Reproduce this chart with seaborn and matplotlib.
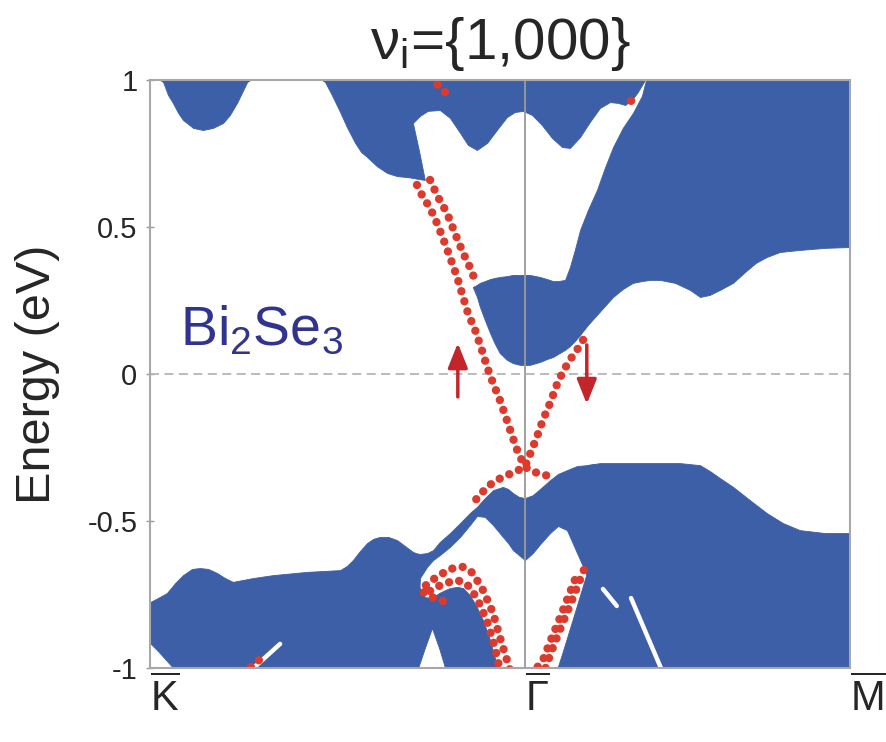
#!/usr/bin/env python
"""Bi2Se3 surface band structure along K-Gamma-M (bulk projection + surface states)."""
import matplotlib

matplotlib.use("Agg")
import matplotlib.pyplot as plt
import numpy as np
import pandas as pd
import seaborn as sns

BLUE = "#3d5fa8"
RED = "#dc3a2c"
ARROW_RED = "#c4252b"
TEXT_BLUE = "#30348f"

# ---- k-path (K = -1, Gamma = 0, M = 0.867) ----
k_ticks = [-1.0, 0.0, 0.867]
k_labels = ["K", "Γ", "M"]
e_ticks = [-1, -0.5, 0, 0.5, 1]
e_labels = ["-1", "-0.5", "0", "0.5", "1"]

# ---- projected bulk bands: (k, lower E, upper E) in eV ----
cb_topleft_k = [-0.973, -0.965, -0.952, -0.939, -0.925, -0.912, -0.885, -0.859, -0.832, -0.805,
                -0.787, -0.768, -0.755, -0.741, -0.733]
cb_topleft_lo = [1.0, 0.993, 0.949, 0.922, 0.888, 0.864, 0.837, 0.830, 0.837, 0.854,
                 0.881, 0.922, 0.956, 0.993, 1.0]

cb_left_k = [-0.541, -0.533, -0.515, -0.493, -0.475, -0.453, -0.437, -0.421, -0.395, -0.368,
             -0.341, -0.315, -0.299, -0.299, -0.283, -0.267]
cb_left_lo = [1.0, 0.993, 0.949, 0.891, 0.840, 0.786, 0.755, 0.738, 0.707, 0.684,
              0.673, 0.670, 0.667, 0.667, 0.663, 0.660]
cb_left_hi = [1.05, 1.05, 1.05, 1.05, 1.05, 1.05, 1.05, 1.05, 1.05, 1.05,
              1.05, 1.05, 1.05, 0.854, 0.762, 0.660]

cb_w_k = [-0.299, -0.280, -0.259, -0.227, -0.200, -0.173, -0.152, -0.128, -0.101, -0.075,
          -0.048, -0.027, -0.005, 0.019, 0.045, 0.072, 0.099, 0.120, 0.147, 0.173,
          0.200, 0.227, 0.248, 0.267, 0.285, 0.301, 0.320]
cb_w_lo = [0.854, 0.878, 0.895, 0.898, 0.871, 0.820, 0.779, 0.762, 0.786, 0.830,
           0.874, 0.891, 0.895, 0.881, 0.847, 0.803, 0.772, 0.769, 0.806, 0.857,
           0.905, 0.925, 0.922, 0.915, 0.932, 0.959, 1.0]

cb_main_k = [-0.139, -0.128, -0.120, -0.107, -0.093, -0.080, -0.067, -0.048, -0.032, -0.013,
             0.0, 0.013, 0.040, 0.059, 0.075, 0.088, 0.107, 0.120, 0.133, 0.147,
             0.168, 0.192, 0.213, 0.235, 0.261, 0.288, 0.312, 0.333, 0.360, 0.400,
             0.440, 0.467, 0.493, 0.520, 0.555, 0.587, 0.616, 0.645, 0.680, 0.733,
             0.800, 0.867]
cb_main_lo = [0.296, 0.262, 0.228, 0.184, 0.139, 0.102, 0.071, 0.048, 0.037, 0.031,
              0.031, 0.031, 0.041, 0.051, 0.058, 0.068, 0.082, 0.095, 0.112, 0.133,
              0.167, 0.201, 0.231, 0.262, 0.289, 0.310, 0.316, 0.320, 0.320, 0.310,
              0.286, 0.262, 0.269, 0.286, 0.310, 0.347, 0.378, 0.398, 0.415, 0.422,
              0.429, 0.432]
cb_main_hi = [0.296, 0.303, 0.310, 0.316, 0.323, 0.327, 0.330, 0.333, 0.337, 0.337,
              0.337, 0.337, 0.330, 0.323, 0.316, 0.316, 0.320, 0.364, 0.422, 0.490,
              0.558, 0.626, 0.701, 0.772, 0.837, 0.888, 0.946, 1.05, 1.05, 1.05,
              1.05, 1.05, 1.05, 1.05, 1.05, 1.05, 1.05, 1.05, 1.05, 1.05,
              1.05, 1.05]

vb_left_k = [-1.0, -0.979, -0.955, -0.933, -0.912, -0.888, -0.867, -0.845, -0.821, -0.800,
             -0.779, -0.725, -0.672, -0.581, -0.493, -0.475, -0.459, -0.440, -0.421, -0.405,
             -0.387, -0.365, -0.341, -0.320, -0.299, -0.291]
vb_left_lo = [-0.915, -0.942, -0.976, -1.007, -1.05, -1.05, -1.05, -1.05, -1.05, -1.05,
              -1.05, -1.05, -1.05, -1.05, -1.05, -1.05, -1.05, -1.05, -1.05, -1.05,
              -1.05, -1.05, -1.05, -1.05, -1.05, -1.05]
vb_left_hi = [-0.776, -0.762, -0.745, -0.711, -0.684, -0.663, -0.660, -0.663, -0.677, -0.694,
              -0.707, -0.694, -0.684, -0.673, -0.667, -0.653, -0.633, -0.602, -0.575, -0.561,
              -0.554, -0.554, -0.565, -0.585, -0.605, -0.609]

vb_mid_k = [-0.293, -0.280, -0.261, -0.245, -0.227, -0.200, -0.173, -0.147, -0.128, -0.107,
            -0.085, -0.059, -0.045, -0.032, -0.016, 0.0, 0.021, 0.043, 0.067, 0.088,
            0.112, 0.139, 0.165, 0.187]
vb_mid_lo = [-1.05, -0.694, -0.656, -0.633, -0.616, -0.588, -0.554, -0.514, -0.483, -0.486,
             -0.514, -0.554, -0.575, -0.599, -0.616, -0.633, -0.609, -0.575, -0.541, -0.517,
             -0.531, -0.609, -0.684, -1.05]
vb_mid_hi = [-0.609, -0.612, -0.609, -0.599, -0.571, -0.541, -0.507, -0.473, -0.452, -0.422,
             -0.395, -0.384, -0.391, -0.405, -0.418, -0.422, -0.412, -0.388, -0.361, -0.340,
             -0.327, -0.313, -0.310, -0.306]

vb_right_k = [0.165, 0.200, 0.253, 0.333, 0.413, 0.467, 0.493, 0.520, 0.555, 0.600,
              0.645, 0.688, 0.733, 0.800, 0.867]
vb_right_hi = [-0.310, -0.303, -0.303, -0.303, -0.303, -0.310, -0.330, -0.354, -0.384, -0.429,
               -0.473, -0.507, -0.531, -0.541, -0.541]

vb_edge_k = [0.085, 0.099, 0.112, 0.125, 0.139, 0.152, 0.165, 0.179]
vb_edge_hi = [-1.007, -0.952, -0.898, -0.844, -0.786, -0.731, -0.677, -0.633]

vb_peak_k = [-0.307, -0.285, -0.267, -0.248, -0.229, -0.213, -0.200, -0.181, -0.165, -0.147,
             -0.128, -0.112, -0.093, -0.075, -0.067]
vb_peak_lo = [-1.05, -1.0, -0.932, -0.864, -0.932, -1.0, -1.05, -1.05, -1.05, -1.05,
              -1.05, -1.05, -1.05, -1.05, -1.05]
vb_peak_hi = [-0.684, -0.718, -0.759, -0.762, -0.745, -0.735, -0.728, -0.724, -0.728, -0.752,
              -0.793, -0.837, -0.905, -0.990, -1.05]

# thin gaps cutting through the projected bulk bands
gaps = {
    "K": ([-0.736, -0.653], [-1.014, -0.918]),
    "M1": ([0.208, 0.245], [-0.731, -0.789]),
    "M2": ([0.283, 0.365], [-0.762, -1.007]),
}

# ---- surface states ----
ss_left_k = [-0.288, -0.272, -0.253, -0.235, -0.219, -0.200, -0.181, -0.165, -0.152, -0.133,
             -0.115, -0.101, -0.085, -0.067, -0.053, -0.035, -0.019, 0.0, 0.019, 0.040, 0.075]
ss_left_e = [0.643, 0.602, 0.565, 0.514, 0.463, 0.398, 0.330, 0.262, 0.207, 0.150,
             0.082, 0.024, -0.031, -0.088, -0.139, -0.207, -0.265, -0.316, -0.330, -0.340, -0.350]
ss_left2_k = [-0.253, -0.232, -0.208, -0.187, -0.165, -0.147, -0.131]
ss_left2_e = [0.660, 0.602, 0.548, 0.480, 0.412, 0.364, 0.313]
ss_right_k = [0.155, 0.139, 0.120, 0.101, 0.085, 0.067, 0.048, 0.032, 0.016, 0.0,
              -0.027, -0.053, -0.075, -0.101, -0.120, -0.139]
ss_right_e = [0.116, 0.082, 0.048, 0.007, -0.037, -0.099, -0.156, -0.214, -0.265, -0.316,
              -0.333, -0.347, -0.361, -0.384, -0.412, -0.439]
ss_top_k = [-0.253, -0.245, -0.227, -0.208]
ss_top_e = [1.01, 1.0, 0.976, 0.952]
ss_top2_k = [0.283, 0.299]
ss_top2_e = [0.929, 0.939]
ss_arc_k = [-0.219, -0.248, -0.277, -0.261, -0.235, -0.200, -0.165, -0.139, -0.112, -0.085,
            -0.067, -0.048, -0.040]
ss_arc_e = [-0.772, -0.759, -0.738, -0.714, -0.690, -0.663, -0.656, -0.677, -0.735, -0.813,
            -0.895, -0.973, -1.007]
ss_arc2_k = [-0.253, -0.219, -0.181, -0.155, -0.128, -0.101, -0.080, -0.067]
ss_arc2_e = [-0.738, -0.714, -0.701, -0.714, -0.762, -0.840, -0.929, -1.007]
ss_low_k = [0.157, 0.136, 0.115, 0.093, 0.072, 0.053]
ss_low_e = [-0.667, -0.735, -0.803, -0.871, -0.939, -1.007]
ss_low2_k = [0.133, 0.112, 0.091, 0.069, 0.048, 0.027]
ss_low2_e = [-0.701, -0.769, -0.837, -0.905, -0.973, -1.007]
ss_k_k = [-0.731, -0.712, -0.693]
ss_k_e = [-0.997, -0.976, -0.956]

# spin arrows: (k, E tail, E head)
spin_up = (-0.179, -0.078, 0.105)
spin_down = (0.165, 0.099, -0.102)


def main() -> None:
    sns.set_theme(style="white")
    plt.rcParams["font.family"] = ["Liberation Sans", "DejaVu Sans"]
    plt.rcParams["mathtext.fontset"] = "custom"
    plt.rcParams["mathtext.rm"] = "Liberation Sans"
    plt.rcParams["axes.unicode_minus"] = False

    fig = plt.figure(figsize=(8.86, 7.42), dpi=100)
    ax = fig.add_axes([150 / 886, 1 - 668 / 742, 700 / 886, 588 / 742])

    bands = [
        (cb_topleft_k, cb_topleft_lo, [1.05] * len(cb_topleft_k)),
        (cb_left_k, cb_left_lo, cb_left_hi),
        (cb_w_k, cb_w_lo, [1.05] * len(cb_w_k)),
        (cb_main_k, cb_main_lo, cb_main_hi),
        (vb_left_k, vb_left_lo, vb_left_hi),
        (vb_mid_k, vb_mid_lo, vb_mid_hi),
        (vb_right_k, [-1.05] * len(vb_right_k), vb_right_hi),
        (vb_edge_k, [-1.05] * len(vb_edge_k), vb_edge_hi),
        (vb_peak_k, vb_peak_lo, vb_peak_hi),
    ]
    for k, lo, hi in bands:
        ax.fill_between(k, lo, hi, color=BLUE, lw=0.6, edgecolor=BLUE, zorder=1)
    for gk, ge in gaps.values():
        ax.plot(gk, ge, color="white", lw=3.2, solid_capstyle="round", zorder=2)

    ax.axvline(0, color="#9a9a9a", lw=1.3, zorder=3)
    ax.axhline(0, color="#b5b5b5", lw=1.3, ls=(0, (5, 3)), zorder=3)

    curves = {
        "left": (ss_left_k, ss_left_e), "left2": (ss_left2_k, ss_left2_e),
        "right": (ss_right_k, ss_right_e), "top": (ss_top_k, ss_top_e),
        "top2": (ss_top2_k, ss_top2_e), "arc": (ss_arc_k, ss_arc_e),
        "arc2": (ss_arc2_k, ss_arc2_e), "low": (ss_low_k, ss_low_e),
        "low2": (ss_low2_k, ss_low2_e), "kslit": (ss_k_k, ss_k_e),
    }
    ss = pd.concat(
        [pd.DataFrame({"k": k, "E": e, "curve": name}) for name, (k, e) in curves.items()],
        ignore_index=True,
    )
    sns.lineplot(data=ss, x="k", y="E", units="curve", estimator=None, sort=False,
                 color=RED, lw=6.0, linestyle=(0, (0.01, 1.25)), dash_capstyle="round",
                 ax=ax, zorder=4, legend=False)

    for k0, e_tail, e_head in (spin_up, spin_down):
        ax.annotate("", xy=(k0, e_head), xytext=(k0, e_tail),
                    arrowprops=dict(arrowstyle="-|>,head_length=0.75,head_width=0.3",
                                    color=ARROW_RED, lw=2.5, mutation_scale=20,
                                    shrinkA=0, shrinkB=0), zorder=5)

    ax.set_xlim(-1.0, 0.867)
    ax.set_ylim(-1, 1)
    ax.set_yticks(e_ticks)
    ax.set_yticklabels(e_labels, fontsize=21)
    ax.set_xticks(k_ticks)
    ax.set_xticklabels([r"$\overline{\mathregular{%s}}$" % s for s in k_labels],
                       fontsize=30, ha="left")
    ax.tick_params(axis="y", direction="inout", length=6, width=1, color="#999999",
                   pad=6, left=True)
    ax.tick_params(axis="x", length=0, pad=5.5)
    ax.set_xlabel("")
    ax.set_ylabel("Energy (eV)", fontsize=35)
    ax.yaxis.set_label_coords(-0.128, 0.5)
    for sp in ax.spines.values():
        sp.set_color("#a8a8a8")
        sp.set_linewidth(1.5)
        sp.set_zorder(6)

    ax.text(0.043, 0.549, r"Bi$_\mathregular{2}$Se$_\mathregular{3}$", transform=ax.transAxes,
            fontsize=40, color=TEXT_BLUE, va="baseline", ha="left", zorder=6)

    fig.text(500 / 886, 1 - 44 / 742, r"ν$_\mathregular{i}$={1,000}", ha="center", va="center",
             fontsize=42, family=["Liberation Sans Narrow", "Liberation Sans", "DejaVu Sans"])

    fig.savefig("out.png", dpi=100)
    plt.close(fig)


if __name__ == "__main__":
    main()
